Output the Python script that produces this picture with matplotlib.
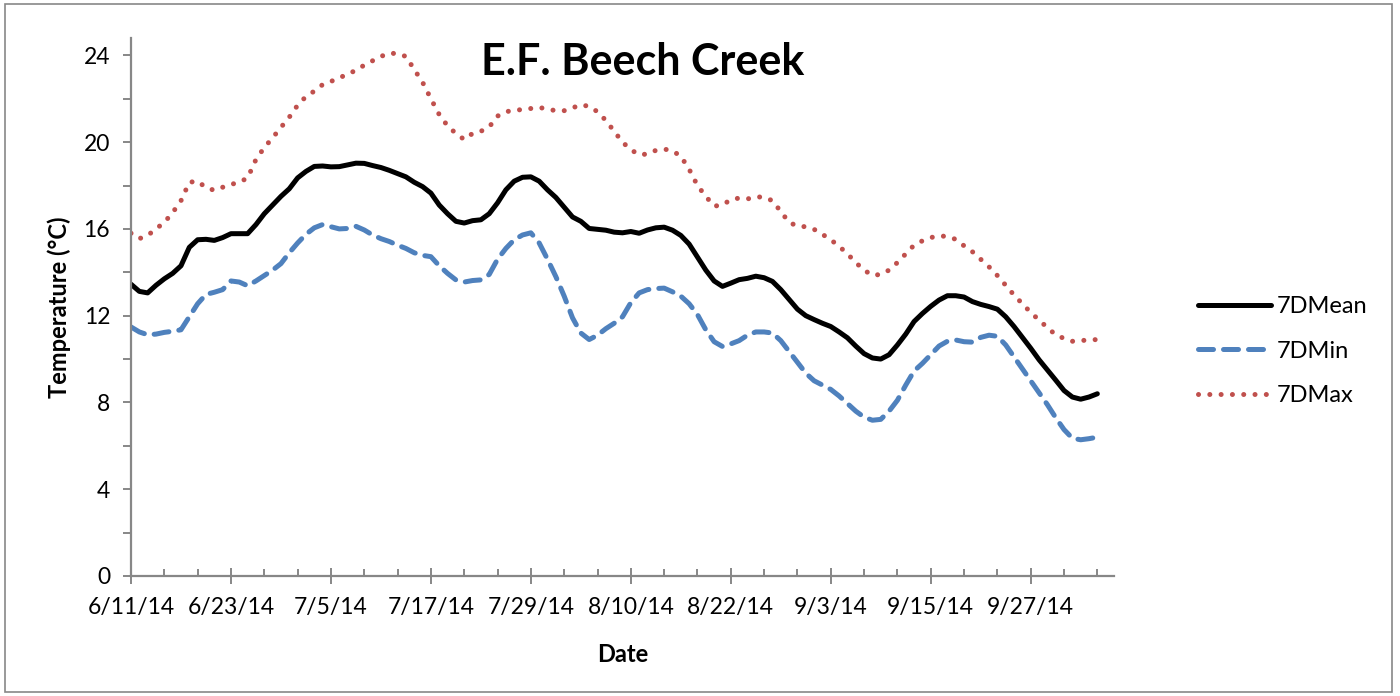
import matplotlib
matplotlib.use('Agg')
import matplotlib.pyplot as plt
from matplotlib.patches import Rectangle
import pandas as pd

plt.rcParams['font.family'] = ['Lato', 'DejaVu Sans']

# daily 7-day rolling stats, starting 6/11/14
start_date = "2014-06-11"

mean_7d = [13.45, 13.12, 13.05, 13.4, 13.7, 13.95, 14.3, 15.15, 15.5, 15.52,
           15.47, 15.6, 15.78, 15.78, 15.78, 16.2, 16.7, 17.1, 17.5, 17.85,
           18.35, 18.65, 18.88, 18.9, 18.86, 18.87, 18.95, 19.03, 19.02, 18.92,
           18.83, 18.7, 18.55, 18.4, 18.15, 17.95, 17.65, 17.1, 16.7, 16.35,
           16.27, 16.38, 16.42, 16.7, 17.2, 17.8, 18.2, 18.38, 18.4, 18.2,
           17.8, 17.45, 17.0, 16.55, 16.35, 16.02, 15.98, 15.94, 15.85, 15.82,
           15.88, 15.8, 15.95, 16.05, 16.08, 15.94, 15.7, 15.3, 14.7, 14.1,
           13.6, 13.35, 13.5, 13.66, 13.72, 13.82, 13.75, 13.58, 13.2, 12.75,
           12.3, 12.0, 11.82, 11.65, 11.5, 11.25, 10.98, 10.6, 10.25, 10.05,
           10.0, 10.2, 10.65, 11.15, 11.73, 12.1, 12.43, 12.72, 12.92, 12.92,
           12.86, 12.65, 12.52, 12.42, 12.3, 11.95, 11.5, 11.0, 10.5, 9.97,
           9.5, 9.03, 8.55, 8.25, 8.15, 8.25, 8.4]

min_7d = [11.48, 11.25, 11.12, 11.15, 11.23, 11.28, 11.35, 11.95, 12.55, 12.98,
          13.08, 13.2, 13.6, 13.55, 13.38, 13.6, 13.85, 14.1, 14.4, 14.9,
          15.35, 15.75, 16.05, 16.2, 16.1, 16.0, 16.02, 16.12, 15.95, 15.72,
          15.55, 15.42, 15.25, 15.1, 14.9, 14.78, 14.72, 14.3, 13.95, 13.65,
          13.55, 13.62, 13.65, 13.9, 14.6, 15.1, 15.5, 15.72, 15.82, 15.35,
          14.6, 13.8, 12.9, 11.9, 11.2, 10.9, 11.1, 11.4, 11.65, 11.95,
          12.6, 13.05, 13.2, 13.25, 13.27, 13.1, 12.9, 12.55, 12.05, 11.35,
          10.8, 10.58, 10.7, 10.85, 11.1, 11.25, 11.25, 11.2, 10.85, 10.35,
          9.85, 9.35, 9.0, 8.8, 8.6, 8.3, 7.95, 7.6, 7.32, 7.18,
          7.22, 7.6, 8.1, 8.8, 9.45, 9.8, 10.2, 10.6, 10.82, 10.88,
          10.8, 10.78, 11.0, 11.1, 11.05, 10.65, 10.1, 9.55, 9.0, 8.45,
          7.9, 7.3, 6.75, 6.35, 6.28, 6.33, 6.4]

max_7d = [15.8, 15.55, 15.7, 16.0, 16.3, 16.75, 17.3, 18.15, 18.2, 17.9,
          17.78, 17.92, 18.05, 18.15, 18.35, 19.2, 19.75, 20.2, 20.68, 21.15,
          21.7, 22.1, 22.35, 22.65, 22.8, 22.95, 23.15, 23.3, 23.55, 23.75,
          23.95, 24.1, 24.08, 23.95, 23.35, 22.76, 22.0, 21.27, 20.75, 20.4,
          20.12, 20.4, 20.5, 20.7, 21.2, 21.4, 21.47, 21.5, 21.55, 21.6,
          21.52, 21.45, 21.45, 21.58, 21.72, 21.65, 21.4, 21.0, 20.5, 20.0,
          19.65, 19.42, 19.45, 19.62, 19.68, 19.6, 19.35, 18.75, 18.0, 17.5,
          17.05, 17.1, 17.35, 17.42, 17.38, 17.48, 17.46, 17.3, 16.8, 16.3,
          16.13, 16.1, 15.98, 15.75, 15.5, 15.2, 14.85, 14.45, 14.1, 13.86,
          13.9, 14.1, 14.45, 14.85, 15.25, 15.45, 15.6, 15.68, 15.65, 15.52,
          15.22, 14.95, 14.6, 14.25, 13.85, 13.4, 12.95, 12.55, 12.15, 11.8,
          11.45, 11.12, 10.95, 10.82, 10.85, 10.88, 10.9]

dates = pd.date_range(start_date, periods=len(mean_7d), freq="D")

fig = plt.figure(figsize=(14, 6.96), dpi=100)
ax = fig.add_axes([131 / 1400, 1 - 576 / 696, (1114 - 131) / 1400, (576 - 38) / 696])

ax.plot(dates, mean_7d, color="black", lw=3.6, solid_capstyle="round", label="7DMean")
ax.plot(dates, min_7d, color="#4F81BD", lw=3.6, linestyle=(0, (3.0, 2.0)),
        dash_capstyle="round", label="7DMin")
ax.plot(dates, max_7d, color="#C0504D", lw=3.6, linestyle=(0, (0.01, 2.25)),
        dash_capstyle="round", label="7DMax")

# axes limits and ticks
ax.set_ylim(0, 24.8)
ax.set_xlim(dates[0], dates[0] + pd.Timedelta(days=118))
ax.set_yticks(range(0, 25, 4))
ax.set_yticks(range(0, 25, 2), minor=True)
major_dates = pd.date_range(start_date, periods=10, freq="12D")
ax.set_xticks(major_dates)
ax.set_xticklabels([f"{d.month}/{d.day}/{d.strftime('%y')}" for d in major_dates])
ax.set_xticks(pd.date_range(start_date, periods=30, freq="4D"), minor=True)

axis_grey = "#878787"
for s in ["top", "right"]:
    ax.spines[s].set_visible(False)
for s in ["left", "bottom"]:
    ax.spines[s].set_color(axis_grey)
    ax.spines[s].set_linewidth(1.6)

ax.tick_params(axis="y", which="both", direction="out", length=6, width=1.4,
               color=axis_grey, labelsize=16.5, pad=9)
ax.tick_params(axis="x", which="major", direction="inout", length=12, width=1.4,
               color=axis_grey, labelsize=16.5, pad=9)
ax.tick_params(axis="x", which="minor", direction="in", length=5, width=1.4,
               color=axis_grey)

ax.set_xlabel("Date", fontsize=17, fontweight="bold", labelpad=18)
ax.set_ylabel("Temperature (°C)", fontsize=17, fontweight="bold", labelpad=9)

ax.text(0.52, 0.955, "E.F. Beech Creek", transform=ax.transAxes, ha="center",
        va="center", fontsize=31, fontweight="bold")

ax.legend(loc="center left", bbox_to_anchor=(1198 / 1400, 1 - 351 / 696),
          bbox_transform=fig.transFigure, frameon=False, borderpad=0,
          borderaxespad=0, fontsize=17, handlelength=3.1, labelspacing=1.0,
          handletextpad=0.25)

# chart border
fig.patches.append(Rectangle((5 / 1400, 4 / 696), 1387 / 1400, 688 / 696,
                             transform=fig.transFigure, fill=False,
                             edgecolor=axis_grey, lw=1.2))

plt.savefig("out.png", dpi=100)
plt.close()
